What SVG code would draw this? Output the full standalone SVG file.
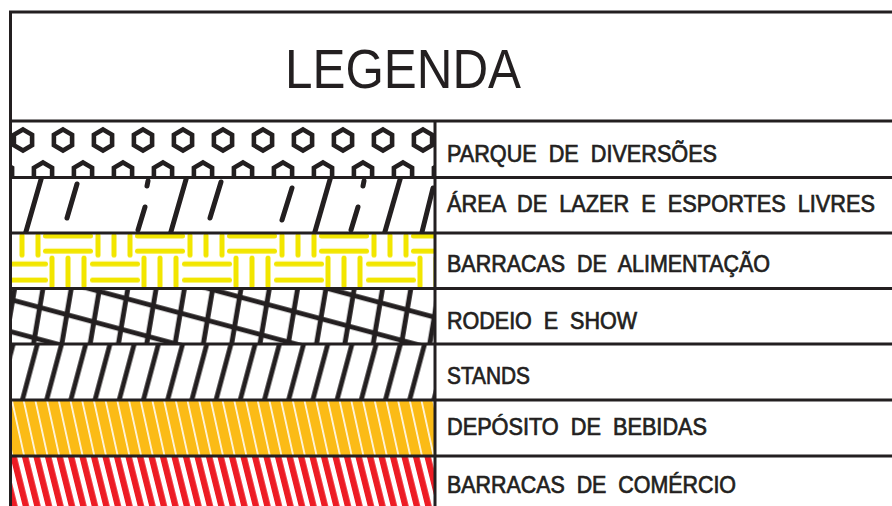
<svg xmlns="http://www.w3.org/2000/svg" width="892" height="506" viewBox="0 0 892 506">
<style>
.ln{stroke:#231f20;stroke-width:3;fill:none}
.lbl{font-family:"Liberation Sans",Arial,sans-serif;font-size:23px;fill:#231f20;stroke:#231f20;stroke-width:0.7}
.ttl{font-family:"Liberation Sans",Arial,sans-serif;font-size:56px;fill:#231f20}
.hx{fill:none;stroke:#231f20;stroke-width:4.6}
.sg{stroke:#231f20;stroke-width:5;stroke-linecap:round}
.yb{stroke:#f2e600;stroke-width:5;stroke-linecap:round}
</style>
<defs>
<path id="hex" d="M0,-10.5 L9.1,-5.25 L9.1,5.25 L0,10.5 L-9.1,5.25 L-9.1,-5.25 Z"/>
<clipPath id="c1"><rect x="10" y="121" width="425" height="56.5"/></clipPath>
<clipPath id="c2"><rect x="10" y="177.5" width="425" height="55.5"/></clipPath>
<pattern id="pBasket" patternUnits="userSpaceOnUse" x="6" y="233" width="92" height="55.5">
<line class="yb" x1="0" y1="2.5" x2="0" y2="22"/>
<line class="yb" x1="92" y1="2.5" x2="92" y2="22"/>
<line class="yb" x1="16" y1="2.5" x2="16" y2="22"/>
<line class="yb" x1="32" y1="2.5" x2="32" y2="22"/>
<line class="yb" x1="39.5" y1="3" x2="84.5" y2="3"/>
<line class="yb" x1="39.5" y1="18" x2="84.5" y2="18"/>
<line class="yb" x1="46" y1="25" x2="46" y2="53"/>
<line class="yb" x1="62" y1="25" x2="62" y2="53"/>
<line class="yb" x1="78" y1="25" x2="78" y2="53"/>
<line class="yb" x1="-5.5" y1="31" x2="39.5" y2="31"/>
<line class="yb" x1="-5.5" y1="47" x2="39.5" y2="47"/>
<line class="yb" x1="86.5" y1="31" x2="131.5" y2="31"/>
<line class="yb" x1="86.5" y1="47" x2="131.5" y2="47"/>
</pattern>
<pattern id="pSteep" patternUnits="userSpaceOnUse" width="28.3" height="10" patternTransform="skewX(-9.65)"><rect x="4.6" y="0" width="5" height="10" fill="#231f20"/></pattern>
<pattern id="pGentle" patternUnits="userSpaceOnUse" width="10" height="32" patternTransform="skewY(15)"><rect x="0" y="6.25" width="10" height="5" fill="#231f20"/></pattern>
<pattern id="pStands" patternUnits="userSpaceOnUse" width="24.2" height="10" patternTransform="skewX(-15)"><rect x="6.1" y="0" width="5" height="10" fill="#231f20"/></pattern>
<pattern id="pBev" patternUnits="userSpaceOnUse" width="11.7" height="10" patternTransform="skewX(12.4)"><rect x="0" y="0" width="11.7" height="10" fill="#fbbb16"/><rect x="5" y="0" width="1.6" height="10" fill="#ffffff"/></pattern>
<pattern id="pCom" patternUnits="userSpaceOnUse" width="11.5" height="10" patternTransform="skewX(14)"><rect x="0" y="0" width="11.5" height="10" fill="#ffffff"/><rect x="0" y="0" width="6.5" height="10" fill="#ed1c24"/></pattern>
</defs>
<rect x="0" y="0" width="892" height="506" fill="#ffffff"/>

<g id="title"><text class="ttl" x="285" y="88" textLength="236" lengthAdjust="spacingAndGlyphs">LEGENDA</text></g>

<g id="row-parque">
<g clip-path="url(#c1)">
<use href="#hex" class="hx" x="23" y="140"/><use href="#hex" class="hx" x="63" y="140"/><use href="#hex" class="hx" x="103" y="140"/><use href="#hex" class="hx" x="143" y="140"/><use href="#hex" class="hx" x="183" y="140"/><use href="#hex" class="hx" x="223" y="140"/><use href="#hex" class="hx" x="263" y="140"/><use href="#hex" class="hx" x="303" y="140"/><use href="#hex" class="hx" x="343" y="140"/><use href="#hex" class="hx" x="383" y="140"/><use href="#hex" class="hx" x="423" y="140"/>
<use href="#hex" class="hx" x="3" y="173"/><use href="#hex" class="hx" x="43" y="173"/><use href="#hex" class="hx" x="83" y="173"/><use href="#hex" class="hx" x="123" y="173"/><use href="#hex" class="hx" x="163" y="173"/><use href="#hex" class="hx" x="203" y="173"/><use href="#hex" class="hx" x="243" y="173"/><use href="#hex" class="hx" x="283" y="173"/><use href="#hex" class="hx" x="323" y="173"/><use href="#hex" class="hx" x="363" y="173"/><use href="#hex" class="hx" x="403" y="173"/><use href="#hex" class="hx" x="443" y="173"/>
</g>
<text class="lbl" x="447" y="162" textLength="270" lengthAdjust="spacingAndGlyphs" xml:space="preserve">PARQUE  DE  DIVERSÕES</text>
</g>

<g id="row-lazer">
<g clip-path="url(#c2)">
<line class="sg" x1="42" y1="176" x2="25" y2="235"/>
<line class="sg" x1="77" y1="184" x2="67" y2="218"/>
<line class="sg" x1="148" y1="181" x2="147" y2="186"/>
<line class="sg" x1="145" y1="207" x2="138" y2="230"/>
<line class="sg" x1="187" y1="176" x2="170" y2="235"/>
<line class="sg" x1="221" y1="182" x2="210" y2="218"/>
<line class="sg" x1="292" y1="188" x2="282" y2="220"/>
<line class="sg" x1="331" y1="176" x2="314" y2="235"/>
<line class="sg" x1="364" y1="181" x2="363" y2="186"/>
<line class="sg" x1="358" y1="207" x2="351" y2="230"/>
<line class="sg" x1="401" y1="176" x2="384" y2="235"/>
<line class="sg" x1="433" y1="188" x2="422" y2="232"/>
</g>
<text class="lbl" x="447" y="212" textLength="428" lengthAdjust="spacingAndGlyphs" xml:space="preserve">ÁREA  DE  LAZER  E  ESPORTES  LIVRES</text>
</g>

<g id="row-alimentacao">
<rect x="10" y="233" width="425" height="55.5" fill="url(#pBasket)"/>
<text class="lbl" x="447" y="272" textLength="323" lengthAdjust="spacingAndGlyphs" xml:space="preserve">BARRACAS  DE  ALIMENTAÇÃO</text>
</g>

<g id="row-rodeio">
<rect x="10" y="288.5" width="425" height="55.5" fill="url(#pSteep)"/>
<rect x="10" y="288.5" width="425" height="55.5" fill="url(#pGentle)"/>
<text class="lbl" x="447" y="328.5" textLength="190" lengthAdjust="spacingAndGlyphs" xml:space="preserve">RODEIO  E  SHOW</text>
</g>

<g id="row-stands">
<rect x="10" y="344" width="425" height="56" fill="url(#pStands)"/>
<text class="lbl" x="447" y="384" textLength="83" lengthAdjust="spacingAndGlyphs">STANDS</text>
</g>

<g id="row-bebidas">
<rect x="10" y="400" width="425" height="56" fill="url(#pBev)"/>
<text class="lbl" x="447" y="435" textLength="260" lengthAdjust="spacingAndGlyphs" xml:space="preserve">DEPÓSITO  DE  BEBIDAS</text>
</g>

<g id="row-comercio">
<rect x="10" y="456" width="425" height="50" fill="url(#pCom)"/>
<text class="lbl" x="447" y="493" textLength="289" lengthAdjust="spacingAndGlyphs" xml:space="preserve">BARRACAS  DE  COMÉRCIO</text>
</g>

<g id="connectors">
<path class="ln" d="M10.5,506 V12 H892"/>
<line class="ln" x1="10" y1="121" x2="892" y2="121"/>
<line class="ln" x1="10" y1="177.5" x2="892" y2="177.5"/>
<line class="ln" x1="10" y1="233" x2="892" y2="233"/>
<line class="ln" x1="10" y1="288.5" x2="892" y2="288.5"/>
<line class="ln" x1="10" y1="344" x2="892" y2="344"/>
<line class="ln" x1="10" y1="400" x2="892" y2="400"/>
<line class="ln" x1="10" y1="456" x2="892" y2="456"/>
<line class="ln" x1="435" y1="121" x2="435" y2="506"/>
</g>
</svg>
